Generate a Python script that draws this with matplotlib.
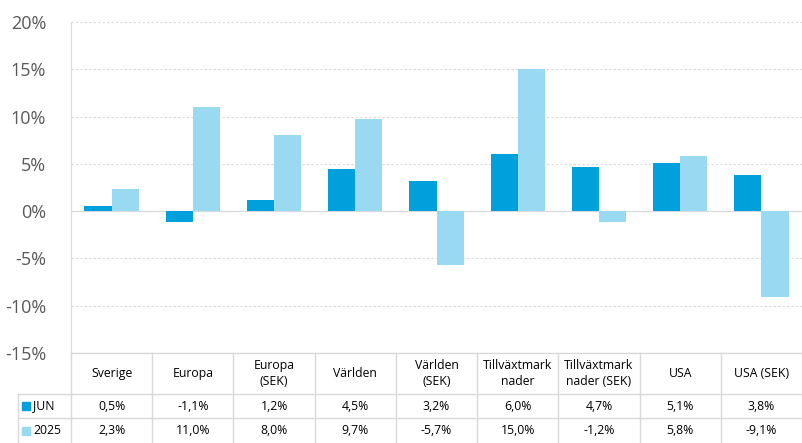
import matplotlib.pyplot as plt
import numpy as np
from matplotlib.lines import Line2D
from matplotlib.patches import Rectangle

categories = ["Sverige", "Europa", "Europa\n(SEK)", "Världen", "Världen\n(SEK)",
              "Tillväxtmark\nnader", "Tillväxtmark\nnader (SEK)", "USA", "USA (SEK)"]
jun = [0.5, -1.1, 1.2, 4.5, 3.2, 6.0, 4.7, 5.1, 3.8]
ytd = [2.3, 11.0, 8.0, 9.7, -5.7, 15.0, -1.2, 5.8, -9.1]
series_names = ["JUN", "2025"]
yticks = [-15, -10, -5, 0, 5, 10, 15, 20]

c_jun = "#00A0DC"
c_ytd = "#99DAF2"
grid_c = "#D9D9D9"

plt.rcParams['font.family'] = ['Open Sans', 'DejaVu Sans']

W, H = 802, 443
fig = plt.figure(figsize=(W / 100, H / 100), dpi=100)

x0, x1 = 71, 802
ytop, ybot = 22, 353
ax = fig.add_axes([x0 / W, 1 - ybot / H, (x1 - x0) / W, (ybot - ytop) / H])

n = len(categories)
x = np.arange(n)
bw = 0.335
ax.bar(x - bw / 2, jun, bw, color=c_jun)
ax.bar(x + bw / 2, ytd, bw, color=c_ytd)

ax.set_xlim(-0.5, n - 0.5)
ax.set_ylim(-15, 20)
ax.set_yticks(yticks)
ax.set_yticklabels([f"{t}%" for t in yticks], fontsize=13, color="#595959")
ax.tick_params(axis='y', length=0, pad=18)
ax.set_xticks([])
ax.yaxis.grid(True, color=grid_c, linestyle=(0, (2, 2)), linewidth=0.8)
ax.set_axisbelow(True)
for s in ["top", "right", "bottom"]:
    ax.spines[s].set_visible(False)
ax.spines["left"].set_color(grid_c)
ax.axhline(0, color=grid_c, linewidth=0.8, zorder=0.5)


def fx(px):
    return px / W


def fy(py):
    return 1 - py / H


line_kw = dict(color=grid_c, linewidth=1.0, transform=fig.transFigure)
col_edges = [x0 + (x1 - x0) * i / n for i in range(n + 1)]
lab_left = 18
r0, r1, r2, r3 = 353, 394, 418, 443

fig.add_artist(Line2D([fx(x0), fx(x1)], [fy(r0), fy(r0)], **line_kw))
fig.add_artist(Line2D([fx(lab_left), fx(x1)], [fy(r1), fy(r1)], **line_kw))
fig.add_artist(Line2D([fx(lab_left), fx(x1)], [fy(r2), fy(r2)], **line_kw))
fig.add_artist(Line2D([fx(x0), fx(x0)], [fy(r0), fy(r3)], **line_kw))
fig.add_artist(Line2D([fx(lab_left), fx(lab_left)], [fy(r1), fy(r3)], **line_kw))
for e in col_edges[1:]:
    fig.add_artist(Line2D([fx(e), fx(e)], [fy(r0), fy(r3)], **line_kw))

for i, cat in enumerate(categories):
    cx = (col_edges[i] + col_edges[i + 1]) / 2
    fig.text(fx(cx), fy((r0 + r1) / 2), cat, ha="center", va="center",
             fontsize=8.8, color="#000000", linespacing=1.3)
    fig.text(fx(cx), fy((r1 + r2) / 2), f"{jun[i]:.1f}%".replace(".", ","),
             ha="center", va="center", fontsize=8.8, color="#000000")
    fig.text(fx(cx), fy((r2 + r3) / 2), f"{ytd[i]:.1f}%".replace(".", ","),
             ha="center", va="center", fontsize=8.8, color="#000000")

for name, col, (ra, rb) in [(series_names[0], c_jun, (r1, r2)), (series_names[1], c_ytd, (r2, r3))]:
    cy = (ra + rb) / 2
    fig.add_artist(Rectangle((fx(22), fy(cy + 4)), 8 / W, 8 / H, color=col,
                             transform=fig.transFigure))
    fig.text(fx(33), fy(cy), name, ha="left", va="center", fontsize=8.8, color="#000000")

fig.savefig("out.png", dpi=100)
